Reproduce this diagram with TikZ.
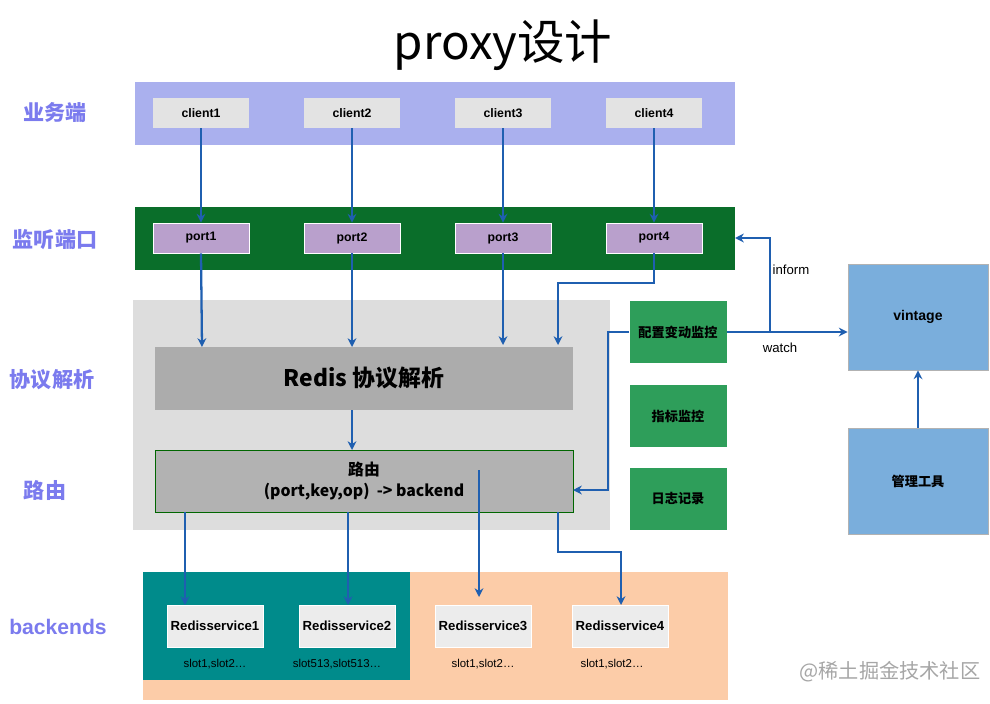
\documentclass[tikz,border=0pt]{standalone}
\usepackage{fontspec}
\setmainfont{Liberation Sans}
\newfontfamily\cjk{Noto Sans CJK SC}
\usetikzlibrary{arrows.meta}
\definecolor{lab}{HTML}{7B7BEE}
\definecolor{arr}{HTML}{1F5FB0}
\definecolor{grn}{HTML}{2E9E5A}
\definecolor{lav}{RGB}{170,176,238}
\definecolor{dgrn}{RGB}{10,110,42}
\definecolor{peach}{RGB}{252,204,168}
\definecolor{teal2}{RGB}{0,139,139}
\definecolor{purp}{RGB}{185,160,204}
\definecolor{blu}{RGB}{122,174,220}
\tikzset{
 box/.style={draw=none,minimum width=96*0.02cm,minimum height=30*0.02cm,inner sep=0,font=\bfseries\fontsize{7}{8}\selectfont},
 cbox/.style={box,font=\cjk\bfseries\fontsize{7.5}{9}\selectfont},
 cl/.style={box,fill=gray!22},
 pt/.style={box,fill=purp,draw=white},
 rs/.style={box,fill=gray!15,minimum height=42*0.02cm,draw=white,font=\bfseries\fontsize{7.5}{9}\selectfont},
 gb/.style={cbox,fill=grn,minimum width=97*0.02cm,minimum height=62*0.02cm},
 bb/.style={cbox,fill=blu,draw=gray!60,minimum width=140*0.02cm,minimum height=106*0.02cm},
 ll/.style={text=lab,font=\cjk\bfseries\fontsize{12}{14}\selectfont},
 a/.style={draw=arr,line width=1.3pt,-{Stealth[length=5pt,width=5pt]}},
 sl/.style={font=\fontsize{6.5}{8}\selectfont}
}
\begin{document}
\begin{tikzpicture}[x=0.02cm,y=-0.02cm]
\useasboundingbox[fill=white] (0,0) rectangle (990,703);
\node[font=\cjk\fontsize{27}{30}\selectfont] (title) at (503,45) {proxy设计};
\node[ll] (l1) at (55,113) {业务端};
\node[ll] (l2) at (55,240) {监听端口};
\node[ll] (l3) at (52,380) {协议解析};
\node[ll] (l4) at (45,490) {路由};
\node[ll,font=\bfseries\fontsize{12}{14}\selectfont] (l5) at (58,627) {backends};
\fill[lav] (135,82) rectangle (735,145);
\fill[dgrn] (135,207) rectangle (735,270);
\fill[gray!27] (133,300) rectangle (610,530);
\fill[peach] (143,572) rectangle (728,700);
\fill[teal2] (143,572) rectangle (410,680);
\node[box,fill=gray!65,minimum width=418*0.02cm,minimum height=63*0.02cm,font=\cjk\bfseries\fontsize{13}{16}\selectfont] (redis) at (364,378) {Redis 协议解析};
\node[box,fill=gray!60,draw=green!40!black,minimum width=418*0.02cm,minimum height=62*0.02cm,align=center,font=\cjk\bfseries\fontsize{9}{12}\selectfont] (route) at (364,481) {路由\\(port,key,op)\ \ -> backend};
\foreach \i/\x in {1/201,2/352,3/503,4/654}{
 \node[cl] (c\i) at (\x,113) {client\i};
 \node[pt] (p\i) at (\x,238) {port\i};
 \draw[a] (c\i) -- (p\i);
}
\node[rs] (r1) at (215,626) {Redisservice1};
\node[rs] (r2) at (347,626) {Redisservice2};
\node[rs] (r3) at (483,626) {Redisservice3};
\node[rs] (r4) at (620,626) {Redisservice4};
\node[sl] (s1) at (215,664) {slot1,slot2…};
\node[sl] (s2) at (337,664) {slot513,slot513…};
\node[sl] (s3) at (483,664) {slot1,slot2…};
\node[sl] (s4) at (612,664) {slot1,slot2…};
\node[gb] (cfg) at (678,332) {配置变动监控};
\node[gb] (met) at (678,416) {指标监控};
\node[gb] (log) at (678,499) {日志记录};
\node[bb,font=\bfseries\fontsize{8}{9}\selectfont] (vin) at (918,317) {vintage};
\node[bb] (mgr) at (918,481) {管理工具};
\draw[a] (p1.south) -- (202,347);
\draw[a] (p2.south) -- (352,347);
\draw[a] (p3.south) -- (503,345);
\draw[a] (p4.south) -- (654,283) -- (558,283) -- (558,345);
\draw[a] (352,410) -- (352,450);
\draw[a] (185,512) -- (185,605);
\draw[a] (348,512) -- (348,605);
\draw[a] (479,470) -- (479,597);
\draw[a] (558,512) -- (558,552) -- (621,552) -- (621,605);
\draw[a] (cfg.west) -- (608,332) -- (608,490) -- (573,490);
\draw[a] (cfg.east) -- (vin.west |- cfg.east);
\node[font=\fontsize{7.5}{9}\selectfont] (wt) at (780,348) {watch};
\coordinate (j) at (770,332);
\draw[a] (j) -- (770,238) -- (735,238);
\node[font=\fontsize{7.5}{9}\selectfont] (inf) at (791,270) {inform};
\draw[a] (mgr.north) -- (vin.south);
\node[text=gray!70,font=\cjk\fontsize{11.5}{14}\selectfont] (wm) at (890,672) {@稀土掘金技术社区};
\end{tikzpicture}
\end{document}
